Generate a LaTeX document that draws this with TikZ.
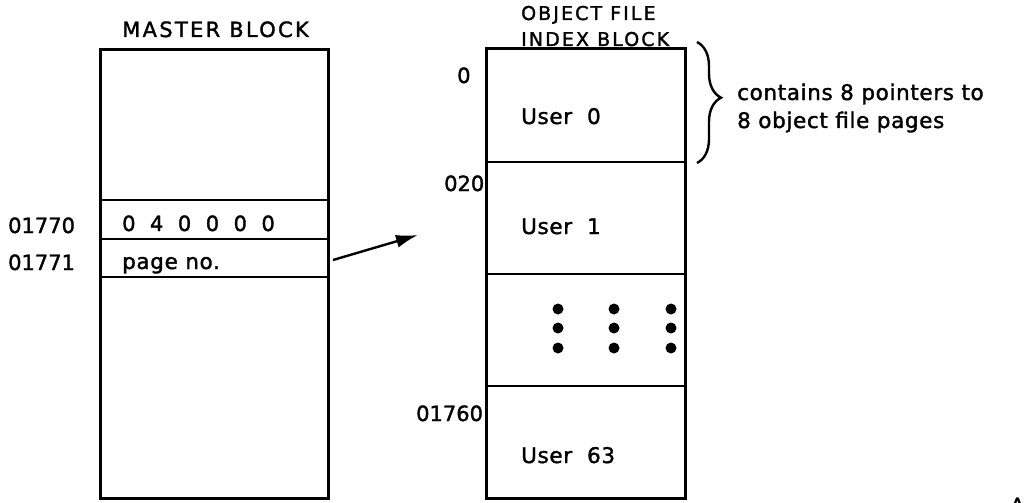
\documentclass[tikz,border=0pt]{standalone}
\usepackage{fontspec}
\setmainfont{DejaVu Sans}[FakeBold=1.6]
\newfontfamily\mycapsfont[LetterSpace=11,FakeBold=1.6]{DejaVu Sans}
\newfontfamily\mynotefont[LetterSpace=3,FakeBold=1.6]{DejaVu Sans}
\usetikzlibrary{arrows.meta,decorations.pathreplacing}
\newcommand\dg{\hspace{14.5pt}}
\begin{document}
\begin{tikzpicture}[x=1pt,y=-1pt,
  box/.style={draw,line width=2.6pt},
  sep/.style={line width=2.6pt},
  lbl/.style={anchor=base west,inner sep=0pt,font=\fontsize{21}{24}\selectfont},
  ttl/.style={anchor=base west,inner sep=0pt,font=\mycapsfont\fontsize{21}{24}\selectfont},
  note/.style={anchor=base west,inner sep=0pt,font=\mynotefont\fontsize{21.5}{24}\selectfont},
  dot/.style={circle,fill,inner sep=0pt,minimum size=11pt}]
\useasboundingbox (0,0) rectangle (1026,503);
% master block
\node[box,minimum width=228pt,minimum height=449pt,anchor=north west,inner sep=0pt] (mb) at (99,48) {};
\coordinate (m1l) at (99,200); \coordinate (m1r) at (327,200);
\coordinate (m2l) at (99,239); \coordinate (m2r) at (327,239);
\coordinate (m3l) at (99,277); \coordinate (m3r) at (327,277);
\draw[sep] (m1l) -- (m1r); \draw[sep] (m2l) -- (m2r); \draw[sep] (m3l) -- (m3r);
\node[ttl] (mbt) at (122,37) {MASTER BLOCK};
\node[lbl] (a1770) at (8,233) {01770};
\node[lbl] (a1771) at (8,270) {01771};
\node[lbl] (v1) at (122,231) {0\dg 4\dg 0\dg 0\dg 0\dg 0};
\node[note] (v2) at (122,269) {page no.};
% object file index block
\node[box,minimum width=199pt,minimum height=450pt,anchor=north west,inner sep=0pt] (ob) at (485,47) {};
\coordinate (o1l) at (485,162); \coordinate (o1r) at (684,162);
\coordinate (o2l) at (485,274); \coordinate (o2r) at (684,274);
\coordinate (o3l) at (485,386); \coordinate (o3r) at (684,386);
\draw[sep] (o1l) -- (o1r); \draw[sep] (o2l) -- (o2r); \draw[sep] (o3l) -- (o3r);
\node[ttl,font=\mycapsfont\fontsize{19}{22}\selectfont] (ot1) at (521,20) {OBJECT FILE};
\node[ttl,font=\mycapsfont\fontsize{19}{22}\selectfont] (ot2) at (521,46) {INDEX BLOCK};
\node[lbl] (b0) at (457,83) {0};
\node[lbl] (b20) at (444,191) {020};
\node[lbl] (b1760) at (416,421) {01760};
\node[note] (u0) at (521,124) {User\ \ 0};
\node[note] (u1) at (521,234) {User\ \ 1};
\node[note] (u63) at (521,463) {User\ \ 63};
\foreach \x in {558,614,671}{\foreach \y in {309,328,348}{\node[dot] at (\x,\y) {};}}
% arrow
\coordinate (as) at (333,260);
\coordinate (ae) at (418,235);
\draw[line width=2.4pt,-{Latex[length=22pt,width=13pt]}] (as) -- (ae);
% brace
\coordinate (bt) at (697,42);
\coordinate (bb) at (697,163);
\draw[line width=2.4pt,decorate,decoration={brace,amplitude=24pt,aspect=0.46}] (bt) -- (bb);
\node[note] (c1) at (737,100) {contains 8 pointers to};
\node[note] (c2) at (737,128) {8 object file pages};
\node[lbl] (corner) at (1010,513) {A};
\end{tikzpicture}
\end{document}
